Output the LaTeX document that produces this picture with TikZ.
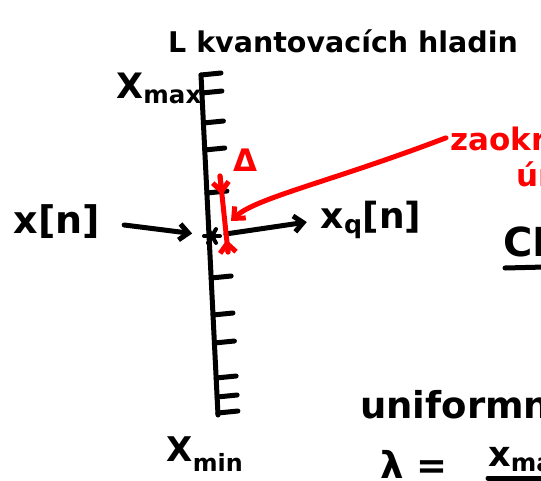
\documentclass[tikz,border=0pt]{standalone}
\usepackage{fontspec}
\setmainfont{DejaVu Sans}
\usetikzlibrary{arrows.meta,positioning,calc}
\tikzset{
  pen/.style={line width=5pt,line cap=round,line join=round},
  redpen/.style={pen,red},
  hand/.style={font=\fontsize{31}{33}\selectfont\bfseries,inner sep=0pt},
  >={Straight Barb[length=9pt,width=16pt]}
}
\begin{document}
\begin{tikzpicture}[x=1pt,y=-1pt]
        \useasboundingbox (0,0) rectangle (541,480);
        % Heading
        \node[hand,font=\fontsize{28.5}{30}\selectfont\bfseries,anchor=base west] (title) at (168,52) {L kvantovacích hladin};
        % Axis with levels
        \coordinate (axtop) at (201,75);
        \coordinate (axbot) at (218,415);
        \draw[pen] (axtop) -- (axbot);
        \foreach \ty in {75,93,123,150,193,278,315,343,378,397,413}
          \draw[pen] ({201+0.05*(\ty-75)},\ty) -- ++(20,-2);
        \node[hand,font=\fontsize{35}{35}\selectfont\bfseries,anchor=east] (xmax) at (202,88) {X\textsubscript{max}};
        \node[hand,font=\fontsize{34}{34}\selectfont\bfseries] (xmin) at (205,454) {X\textsubscript{min}};
        % Sample on the axis
        \coordinate (pt) at (212,236);
        \foreach \a in {0,60,120}
          \draw[pen,line width=4pt] (pt) ++(\a:8) -- ++(\a+180:16);
        % Input and output
        \node[hand,font=\fontsize{38}{38}\selectfont\bfseries] (xin) at (57,222) {x[n]};
        \node[hand,font=\fontsize{36}{36}\selectfont\bfseries] (xq) at (371,220) {x\textsubscript{q}[n]};
        \draw[pen,->,shorten <=24pt,shorten >=20pt] (xin.east) -- (pt);
        \draw[pen,->,shorten <=14pt,shorten >=14pt] (pt) -- (xq.west);
        % Step size
        \node[hand,red] (delta) at (245,160) {Δ};
        \coordinate (dtop) at (220,176);
        \coordinate (dbot) at (228,252);
        \draw[redpen] (dtop) -- (dbot);
        \draw[redpen,->] (dtop) -- ($(dtop)!0.25!(dbot)$);
        \draw[redpen,->] (dbot) -- ($(dbot)!0.16!(dtop)$);
        % Note
        \node[hand,red,anchor=base west] (note) at (450,150) {zaokrouhlení};
        \node[hand,red,anchor=base west] (note2) at (516,186) {úroveň};
        \coordinate (tip) at (231,221);
        \draw[redpen,->] ([xshift=-4pt]note.west) .. controls (330,182) and (255,198) .. (tip);
        % Right side
        \node[hand,font=\fontsize{40}{40}\selectfont\bfseries,anchor=base west] (err) at (503,256) {CHYBA};
        \draw[pen] ($(err.base west)+(2,12)$) -- ++(80,-2);
        \node[hand,font=\fontsize{37}{37}\selectfont\bfseries,anchor=base west] (unif) at (360,418) {uniformní};
        \node[hand,font=\fontsize{37}{37}\selectfont\bfseries,anchor=base west] (lam) at (380,478) {λ =};
        \node[hand,font=\fontsize{35}{35}\selectfont\bfseries,anchor=base west] (num) at (488,466) {x\textsubscript{max} − x\textsubscript{min}};
        \draw[pen] ($(num.base west)+(0,12)$) -- ++(160,0);
\end{tikzpicture}
\end{document}
